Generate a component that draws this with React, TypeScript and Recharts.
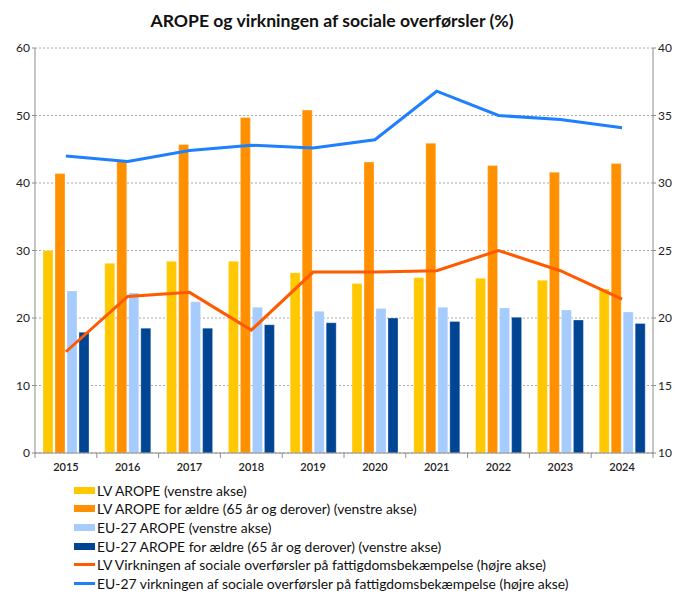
import React from "react";
import {
  ComposedChart,
  Bar,
  Line,
  XAxis,
  YAxis,
  CartesianGrid,
} from "recharts";

const years = ["2015", "2016", "2017", "2018", "2019", "2020", "2021", "2022", "2023", "2024"];
const lvArope = [30.0, 28.1, 28.4, 28.4, 26.7, 25.1, 26.0, 25.9, 25.6, 24.3];
const lvAropeOld = [41.4, 43.2, 45.7, 49.7, 50.8, 43.1, 45.9, 42.6, 41.6, 42.9];
const euArope = [24.0, 23.7, 22.4, 21.6, 21.0, 21.4, 21.6, 21.5, 21.2, 20.9];
const euAropeOld = [17.9, 18.5, 18.5, 19.0, 19.3, 20.0, 19.5, 20.1, 19.7, 19.2];
const lvTransfers = [17.5, 21.6, 21.9, 19.1, 23.4, 23.4, 23.5, 25.0, 23.5, 21.4];
const euTransfers = [32.0, 31.6, 32.4, 32.8, 32.6, 33.2, 36.8, 35.0, 34.7, 34.1];
const leftTicks = [0, 10, 20, 30, 40, 50, 60];
const rightTicks = [10, 15, 20, 25, 30, 35, 40];

const data = years.map((year, i) => ({
  year,
  lvArope: lvArope[i],
  lvAropeOld: lvAropeOld[i],
  euArope: euArope[i],
  euAropeOld: euAropeOld[i],
  lvTransfers: lvTransfers[i],
  euTransfers: euTransfers[i],
}));

const series = [
  { key: "lvArope", color: "#FFC800", type: "bar", name: "LV AROPE (venstre akse)" },
  { key: "lvAropeOld", color: "#FF9100", type: "bar", name: "LV AROPE for ældre (65 år og derover) (venstre akse)" },
  { key: "euArope", color: "#A6CBFD", type: "bar", name: "EU-27 AROPE (venstre akse)" },
  { key: "euAropeOld", color: "#004593", type: "bar", name: "EU-27 AROPE for ældre (65 år og derover) (venstre akse)" },
  { key: "lvTransfers", color: "#FF5A00", type: "line", name: "LV Virkningen af sociale overførsler på fattigdomsbekæmpelse (højre akse)" },
  { key: "euTransfers", color: "#1E80FF", type: "line", name: "EU-27 virkningen af sociale overførsler på fattigdomsbekæmpelse (højre akse)" },
];

const FONT = "Lato, 'Open Sans', sans-serif";

// year label plus a tick mark on the category boundary
const YearTick = (props: any) => {
  const { x, y, payload, index } = props;
  const off = payload.offset || 30.9;
  return (
    <g>
      <line x1={x - off} x2={x - off} y1={y - 8} y2={y - 3} stroke="#8c8c8c" />
      {index === years.length - 1 && (
        <line x1={x + off} x2={x + off} y1={y - 8} y2={y - 3} stroke="#8c8c8c" />
      )}
      <text x={x} y={y + 10} textAnchor="middle" fontSize={11} fill="#222" fontFamily={FONT} fontWeight={600}>
        {payload.value}
      </text>
    </g>
  );
};

export default function App() {
  return (
    <div style={{ position: "absolute", left: 0, top: 0, width: 678, height: 594, background: "#fff", fontFamily: FONT, overflow: "hidden" }}>
      <div style={{ position: "absolute", top: 10, left: 0, width: 664, textAlign: "center", fontSize: 17.6, fontWeight: 700, color: "#111" }}>
        AROPE og virkningen af sociale overførsler (%)
      </div>
      <ComposedChart
        width={678}
        height={594}
        data={data}
        margin={{ top: 48, right: 0, bottom: 111, left: 0 }}
        barSize={10}
        barGap={2}
      >
        <CartesianGrid vertical={false} yAxisId="left" stroke="#a8a8a8" strokeDasharray="2 2" />
        <XAxis
          dataKey="year"
          height={30}
          axisLine={{ stroke: "#8c8c8c" }}
          tickLine={false}
          tick={<YearTick />}
          interval={0}
        />
        <YAxis
          yAxisId="left"
          width={35}
          domain={[0, 60]}
          ticks={leftTicks}
          axisLine={{ stroke: "#8c8c8c" }}
          tickLine={{ stroke: "#8c8c8c" }}
          tickSize={3}
          tick={{ fontSize: 12, fill: "#222", fontFamily: FONT }}
        />
        <YAxis
          yAxisId="right"
          orientation="right"
          width={25}
          domain={[10, 40]}
          ticks={rightTicks}
          axisLine={{ stroke: "#8c8c8c" }}
          tickLine={{ stroke: "#8c8c8c" }}
          tickSize={3}
          tick={{ fontSize: 12, fill: "#222", fontFamily: FONT }}
        />
        {series
          .filter((s) => s.type === "bar")
          .map((s) => (
            <Bar
              key={s.key}
              yAxisId="left"
              dataKey={s.key}
              name={s.name}
              fill={s.color}
              stroke="#ffffff"
              strokeOpacity={0.5}
              strokeWidth={0.6}
              isAnimationActive={false}
            />
          ))}
        {series
          .filter((s) => s.type === "line")
          .map((s) => (
            <Line
              key={s.key}
              yAxisId="right"
              dataKey={s.key}
              name={s.name}
              type="linear"
              stroke={s.color}
              strokeWidth={3}
              dot={false}
              isAnimationActive={false}
            />
          ))}
      </ComposedChart>
      <div style={{ position: "absolute", left: 74, top: 481, fontSize: 13.9, lineHeight: "17px", color: "#111" }}>
        {series.map((s) => (
          <div key={s.key} style={{ display: "flex", alignItems: "center", height: 18.6 }}>
            {s.type === "bar" ? (
              <span style={{ display: "inline-block", width: 21, height: 7, background: s.color }} />
            ) : (
              <span style={{ display: "inline-block", width: 21, height: 3, background: s.color }} />
            )}
            <span style={{ marginLeft: 2 }}>{s.name}</span>
          </div>
        ))}
      </div>
    </div>
  );
}
